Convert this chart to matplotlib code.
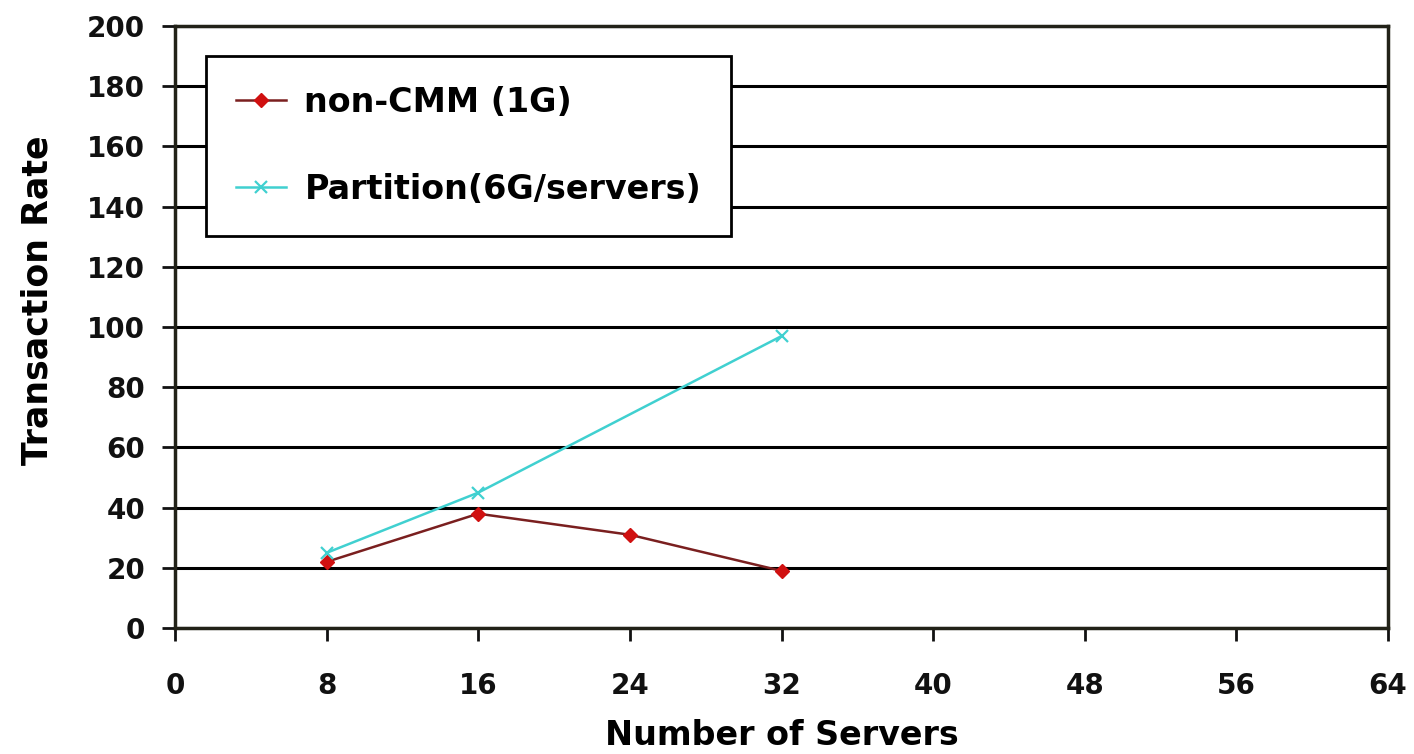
import matplotlib.pyplot as plt

servers_cmm = [8, 16, 24, 32]
rate_cmm = [22, 38, 31, 19]
servers_part = [8, 16, 32]
rate_part = [25, 45, 97]

x_ticks = [0, 8, 16, 24, 32, 40, 48, 56, 64]
y_ticks = [0, 20, 40, 60, 80, 100, 120, 140, 160, 180, 200]

plt.rcParams['font.family'] = ['DejaVu Sans']

fig = plt.figure(figsize=(14.14, 7.54), dpi=100)
ax = fig.add_axes([0.1238, 0.167, 0.8578, 0.7985])

ax.plot(servers_cmm, rate_cmm, color='#7a1f1f', lw=1.8, marker='D', ms=7,
        mfc='#d01010', mec='#d01010', label='non-CMM (1G)')
ax.plot(servers_part, rate_part, color='#40d0d0', lw=1.8, marker='x', ms=8,
        mew=1.6, label='Partition(6G/servers)')

ax.set_xlim(0, 64)
ax.set_ylim(0, 200)
ax.set_xticks(x_ticks)
ax.set_yticks(y_ticks)
ax.yaxis.grid(True, color='black', lw=2.2)
ax.set_axisbelow(True)
for s in ax.spines.values():
    s.set_linewidth(2.5)
    s.set_color('#222218')
ax.tick_params(direction='out', length=9.5, width=2, labelsize=20, colors='#111111')
for lab in ax.get_xticklabels() + ax.get_yticklabels():
    lab.set_fontweight('bold')
ax.tick_params(axis='y', pad=12)
ax.tick_params(axis='x', pad=22)

ax.set_xlabel('Number of Servers', fontsize=24, fontweight='bold', labelpad=14)
ax.set_ylabel('Transaction Rate', fontsize=25, fontweight='bold')
ax.yaxis.set_label_coords(-0.099, 0.545)

leg = ax.legend(loc='upper left', bbox_to_anchor=(0.0256, 0.950), borderaxespad=0,
                frameon=True, fancybox=False, edgecolor='black', framealpha=1,
                handlelength=1.5, labelspacing=1.62, borderpad=0.9,
                handletextpad=0.55, prop={'weight': 'bold', 'size': 24})
leg.get_frame().set_linewidth(2)

fig.savefig('out.png', dpi=100)
